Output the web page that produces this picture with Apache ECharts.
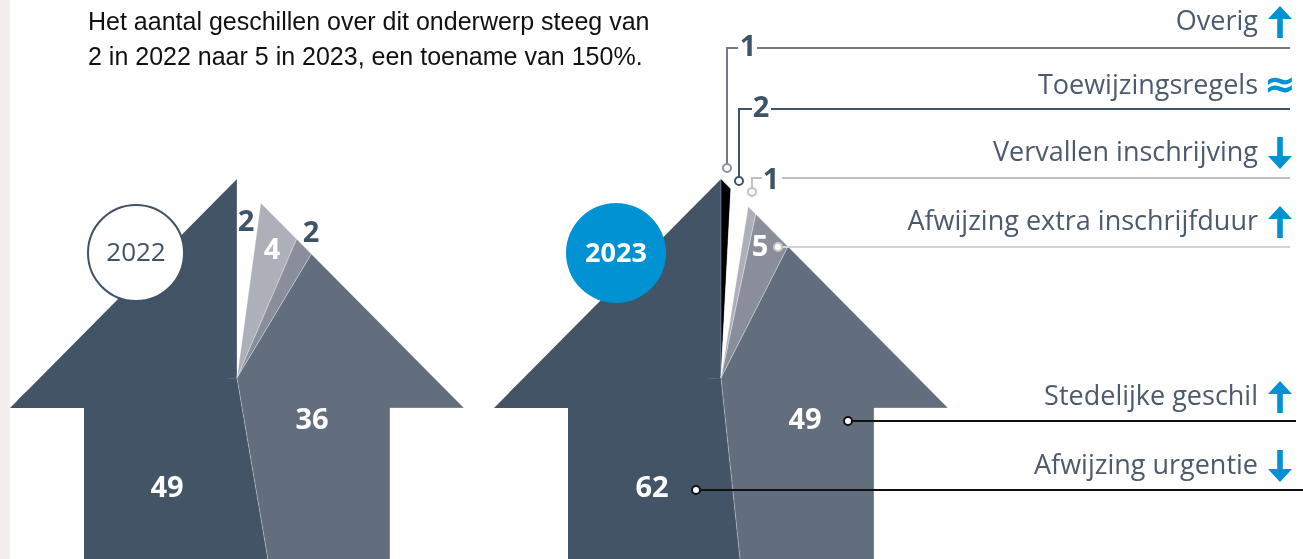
<!DOCTYPE html>
<html>
<head>
<meta charset="utf-8">
<script src="https://cdn.jsdelivr.net/npm/echarts@6/dist/echarts.min.js"></script>
<style>
  html, body { margin: 0; padding: 0; background: #fff; }
  #main { width: 1303px; height: 559px; }
</style>
</head>
<body>
<div id="main"></div>
<script>
// data
const categories = ['Overig', 'Toewijzingsregels', 'Vervallen inschrijving', 'Afwijzing extra inschrijfduur', 'Stedelijke geschil', 'Afwijzing urgentie'];
const years = ['2022', '2023'];
const values2022 = [0, 2, 4, 2, 36, 49];
const values2023 = [1, 2, 1, 5, 49, 62];
const trend = ['up', 'same', 'down', 'up', 'up', 'down'];
const intro = ['Het aantal geschillen over dit onderwerp steeg van', '2 in 2022 naar 5 in 2023, een toename van 150%.'];

const yearValues = [values2022, values2023];
const colors = ['#000000', '#ffffff', '#aeb0b9', '#898e9a', '#626d7d', '#425466'];
const dark = '#3f5366';
const blue = '#0092d2';

// layout of the two arrows (pixels)
const arrowX = [237, 721];
const tipY = 179, baseY = 408, headHalf = 227, shaftHalf = 153, pieY = 378, footY = 620;

// where the value labels sit, per year, per category
const labelPos = [
  [null, [246, 223], [272, 251], [311, 234], [312, 421], [167, 489]],
  [[748, 48], [761, 109], [771, 181], [760, 248], [805, 421], [652, 489]]
];
const labelColor = [
  [dark, dark, '#fff', dark, '#fff', '#fff'],
  [dark, dark, dark, '#fff', '#fff', '#fff']
];
const rowY = [22, 86, 153, 222, 397, 466];

function arrowPoly(cx) {
  return [[cx, tipY], [cx + headHalf, baseY], [cx + shaftHalf, baseY], [cx + shaftHalf, footY],
    [cx - shaftHalf, footY], [cx - shaftHalf, baseY], [cx - headHalf, baseY]];
}
function cross(a, b, p) { return (b[0] - a[0]) * (p[1] - a[1]) - (b[1] - a[1]) * (p[0] - a[0]); }
function area(poly) {
  let s = 0;
  for (let i = 0; i < poly.length; i++) {
    const a = poly[i], b = poly[(i + 1) % poly.length];
    s += a[0] * b[1] - b[0] * a[1];
  }
  return s;
}
function inter(s, e, a, b) {
  const d1 = cross(a, b, s), d2 = cross(a, b, e);
  const t = d1 / (d1 - d2);
  return [s[0] + (e[0] - s[0]) * t, s[1] + (e[1] - s[1]) * t];
}
// clip subject polygon by a convex polygon
function clipPoly(subject, clip) {
  const sg = area(clip) > 0 ? 1 : -1;
  let out = subject;
  for (let i = 0; i < clip.length && out.length; i++) {
    const a = clip[i], b = clip[(i + 1) % clip.length];
    const inside = p => sg * cross(a, b, p) >= 0;
    const input = out;
    out = [];
    let s = input[input.length - 1];
    input.forEach(e => {
      if (inside(e)) {
        if (!inside(s)) out.push(inter(s, e, a, b));
        out.push(e);
      } else if (inside(s)) {
        out.push(inter(s, e, a, b));
      }
      s = e;
    });
  }
  return out;
}
function wedge(cx, cy, a0, a1) {
  const R = 3000, pts = [[cx, cy]], n = 6;
  for (let i = 0; i <= n; i++) {
    const a = (a0 + (a1 - a0) * i / n) * Math.PI / 180;
    pts.push([cx + R * Math.sin(a), cy - R * Math.cos(a)]);
  }
  return pts;
}

const sliceData = [];
years.forEach((y, yi) => categories.forEach((c, ci) => sliceData.push([yi, ci, yearValues[yi][ci]])));

function renderSlice(params, api) {
  const yi = api.value(0), ci = api.value(1), v = api.value(2);
  const vals = yearValues[yi];
  const total = vals.reduce((s, x) => s + x, 0);
  const children = [];
  if (v > 0) {
    let start = 0;
    for (let i = 0; i < ci; i++) start += vals[i];
    const a0 = start / total * 360, a1 = (start + v) / total * 360;
    const arrow = arrowPoly(arrowX[yi]);
    const big = a1 - a0 > 170;
    const parts = big ? [[a0, (a0 + a1) / 2 + 1], [(a0 + a1) / 2 - 1, a1]] : [[a0, a1]];
    parts.forEach(p => {
      const poly = clipPoly(arrow, wedge(arrowX[yi], pieY, p[0], p[1]));
      if (poly.length < 3) return;
      children.push({
        type: 'polygon',
        shape: { points: poly.map(q => api.coord(q)) },
        style: big ? { fill: colors[ci] } : { fill: colors[ci], stroke: 'rgba(255,255,255,0.45)', lineWidth: 0.7 },
        z2: big ? 1 : 2
      });
    });
    const lp = labelPos[yi][ci];
    if (lp) {
      const pt = api.coord(lp);
      children.push({
        type: 'text', z2: 10,
        style: {
          x: pt[0], y: pt[1], text: String(v), fill: labelColor[yi][ci],
          font: 'bold 29px "Open Sans", "Noto Sans", sans-serif', align: 'center', verticalAlign: 'middle'
        }
      });
    }
  }
  return { type: 'group', children };
}

// decorations: intro text, year badges, legend rows and leader lines
const graphics = [];
graphics.push({ type: 'rect', shape: { x: 0, y: 0, width: 10, height: 559 }, style: { fill: '#f3efee' }, z: 0 });
intro.forEach((t, i) => graphics.push({
  type: 'text', x: 88, y: 23 + i * 35, z: 5,
  style: { text: t, fill: '#111', font: '25px "Liberation Sans", sans-serif', verticalAlign: 'middle' }
}));
graphics.push({ type: 'circle', shape: { cx: 136, cy: 253, r: 48 }, style: { fill: '#fff', stroke: dark, lineWidth: 2 }, z: 5 });
graphics.push({ type: 'text', x: 136, y: 254, z: 6, style: { text: years[0], fill: dark, font: '26px "Open Sans", sans-serif', align: 'center', verticalAlign: 'middle' } });
graphics.push({ type: 'circle', shape: { cx: 616, cy: 253, r: 50 }, style: { fill: blue }, z: 5 });
graphics.push({ type: 'text', x: 616, y: 254, z: 6, style: { text: years[1], fill: '#fff', font: 'bold 27px "Open Sans", sans-serif', align: 'center', verticalAlign: 'middle' } });

categories.forEach((c, i) => {
  const y = rowY[i];
  graphics.push({ type: 'text', x: 1258, y: y, z: 5, style: { text: c, fill: '#4b5b6c', font: '27px "Open Sans", sans-serif', align: 'right', verticalAlign: 'middle' } });
  const ix = 1280;
  if (trend[i] === 'same') {
    graphics.push({ type: 'text', x: ix, y: y + 1, z: 5, style: { text: '\u2248', fill: blue, font: 'bold 38px "DejaVu Sans", sans-serif', align: 'center', verticalAlign: 'middle' } });
  } else {
    const d = trend[i] === 'up' ? -1 : 1;
    const tip = y + d * 16, neck = y + d * 3, tail = y - d * 16;
    graphics.push({ type: 'polygon', z: 5, shape: { points: [[ix, tip], [ix + 12, neck], [ix + 2.8, neck], [ix + 2.8, tail], [ix - 2.8, tail], [ix - 2.8, neck], [ix - 12, neck]] }, style: { fill: blue } });
  }
});

function leader(points, color, width) {
  graphics.push({ type: 'polyline', z: 4, shape: { points }, style: { stroke: color, lineWidth: width, fill: null } });
}
function dot(x, y, color) {
  graphics.push({ type: 'circle', z: 6, shape: { cx: x, cy: y, r: 4 }, style: { fill: '#fff', stroke: color, lineWidth: 2 } });
}
// Overig
leader([[727, 164], [727, 48], [738, 48]], '#737a86', 2);
leader([[757, 48], [1290, 48]], '#737a86', 2);
dot(727, 168, '#8d929c');
// Toewijzingsregels
leader([[739, 177], [739, 109], [752, 109]], dark, 2);
leader([[771, 109], [1290, 109]], dark, 2);
dot(739, 181, dark);
// Vervallen inschrijving
leader([[752, 188], [752, 178], [762, 178]], '#bfc1c8', 2);
leader([[782, 178], [1290, 178]], '#bfc1c8', 2);
dot(752, 192, '#bfc1c8');
// Afwijzing extra inschrijfduur
leader([[782, 247], [1290, 247]], '#d2d4d9', 2);
dot(778, 247, '#c6c8ce');
// Stedelijke geschil
leader([[852, 421], [1296, 421]], '#111', 2);
dot(848, 421, '#111');
// Afwijzing urgentie
leader([[700, 490], [1303, 490]], '#111', 2);
dot(696, 490, '#111');

const chart = echarts.init(document.getElementById('main'));
chart.setOption({
  animation: false,
  backgroundColor: '#fff',
  grid: { left: 0, right: 0, top: 0, bottom: 0 },
  xAxis: { type: 'value', min: 0, max: 1303, show: false },
  yAxis: { type: 'value', min: 0, max: 559, inverse: true, show: false },
  series: [{
    type: 'custom',
    renderItem: renderSlice,
    data: sliceData,
    clip: true,
    silent: true
  }],
  graphic: graphics
});
window.addEventListener('resize', () => chart.resize());
</script>
</body>
</html>
